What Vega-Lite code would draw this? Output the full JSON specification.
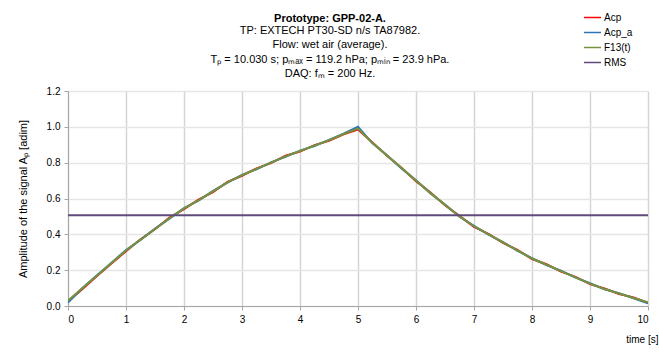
{
  "$schema": "https://vega.github.io/schema/vega-lite/v6.json",
  "width": 580,
  "height": 215,
  "autosize": "none",
  "padding": {"left": 68, "top": 91, "right": 11, "bottom": 46},
  "background": "white",
  "config": {
    "font": "Liberation Sans",
    "view": {"stroke": null},
    "axis": {"labelFont": "Liberation Sans", "titleFont": "Liberation Sans", "labelFontSize": 10, "titleFontSize": 11, "titleFontWeight": "normal", "labelColor": "#000", "titleColor": "#000", "domainColor": "#a6a6a6", "tickColor": "#a6a6a6", "tickSize": 4}
  },
  "title": {
    "text": ["Prototype: GPP-02-A."],
    "subtitle": ["TP: EXTECH PT30-SD n/s TA87982.", "Flow: wet air (average).", "Tₚ = 10.030 s; pₘₐₓ = 119.2 hPa; pₘᵢₙ = 23.9 hPa.", "DAQ: fₘ = 200 Hz."],
    "anchor": "middle",
    "frame": "group",
    "dx": -28,
    "offset": -71,
    "font": "Liberation Sans",
    "fontSize": 11,
    "fontWeight": "bold",
    "color": "#000",
    "subtitleFont": "Liberation Sans",
    "subtitleFontSize": 11,
    "subtitleColor": "#000",
    "subtitleLineHeight": 14.5,
    "lineHeight": 14.5,
    "subtitlePadding": 1
  },
  "data": {"values": [
    {"t":0,"A":0.025,"s":"Acp"},{"t":0.25,"A":0.095,"s":"Acp"},{"t":0.5,"A":0.168,"s":"Acp"},{"t":0.75,"A":0.237,"s":"Acp"},{"t":1,"A":0.306,"s":"Acp"},{"t":1.25,"A":0.372,"s":"Acp"},{"t":1.5,"A":0.428,"s":"Acp"},{"t":1.75,"A":0.493,"s":"Acp"},{"t":2,"A":0.541,"s":"Acp"},{"t":2.25,"A":0.594,"s":"Acp"},{"t":2.5,"A":0.636,"s":"Acp"},{"t":2.75,"A":0.693,"s":"Acp"},{"t":3,"A":0.727,"s":"Acp"},{"t":3.25,"A":0.768,"s":"Acp"},{"t":3.5,"A":0.797,"s":"Acp"},{"t":3.75,"A":0.839,"s":"Acp"},{"t":4,"A":0.862,"s":"Acp"},{"t":4.25,"A":0.898,"s":"Acp"},{"t":4.5,"A":0.922,"s":"Acp"},{"t":4.75,"A":0.958,"s":"Acp"},{"t":5,"A":0.985,"s":"Acp"},{"t":5.25,"A":0.912,"s":"Acp"},{"t":5.5,"A":0.838,"s":"Acp"},{"t":5.75,"A":0.772,"s":"Acp"},{"t":6,"A":0.697,"s":"Acp"},{"t":6.25,"A":0.633,"s":"Acp"},{"t":6.5,"A":0.562,"s":"Acp"},{"t":6.75,"A":0.503,"s":"Acp"},{"t":7,"A":0.442,"s":"Acp"},{"t":7.25,"A":0.403,"s":"Acp"},{"t":7.5,"A":0.352,"s":"Acp"},{"t":7.75,"A":0.313,"s":"Acp"},{"t":8,"A":0.262,"s":"Acp"},{"t":8.25,"A":0.233,"s":"Acp"},{"t":8.5,"A":0.192,"s":"Acp"},{"t":8.75,"A":0.163,"s":"Acp"},{"t":9,"A":0.122,"s":"Acp"},{"t":9.25,"A":0.098,"s":"Acp"},{"t":9.5,"A":0.067,"s":"Acp"},{"t":9.75,"A":0.048,"s":"Acp"},{"t":10,"A":0.018,"s":"Acp"},
    {"t":0,"A":0.02,"s":"Acp_a"},{"t":0.25,"A":0.1,"s":"Acp_a"},{"t":0.5,"A":0.172,"s":"Acp_a"},{"t":0.75,"A":0.242,"s":"Acp_a"},{"t":1,"A":0.312,"s":"Acp_a"},{"t":1.25,"A":0.369,"s":"Acp_a"},{"t":1.5,"A":0.432,"s":"Acp_a"},{"t":1.75,"A":0.488,"s":"Acp_a"},{"t":2,"A":0.546,"s":"Acp_a"},{"t":2.25,"A":0.588,"s":"Acp_a"},{"t":2.5,"A":0.642,"s":"Acp_a"},{"t":2.75,"A":0.688,"s":"Acp_a"},{"t":3,"A":0.732,"s":"Acp_a"},{"t":3.25,"A":0.763,"s":"Acp_a"},{"t":3.5,"A":0.802,"s":"Acp_a"},{"t":3.75,"A":0.833,"s":"Acp_a"},{"t":4,"A":0.867,"s":"Acp_a"},{"t":4.25,"A":0.893,"s":"Acp_a"},{"t":4.5,"A":0.927,"s":"Acp_a"},{"t":4.75,"A":0.962,"s":"Acp_a"},{"t":5,"A":1.0,"s":"Acp_a"},{"t":5.25,"A":0.908,"s":"Acp_a"},{"t":5.5,"A":0.842,"s":"Acp_a"},{"t":5.75,"A":0.768,"s":"Acp_a"},{"t":6,"A":0.702,"s":"Acp_a"},{"t":6.25,"A":0.628,"s":"Acp_a"},{"t":6.5,"A":0.567,"s":"Acp_a"},{"t":6.75,"A":0.498,"s":"Acp_a"},{"t":7,"A":0.447,"s":"Acp_a"},{"t":7.25,"A":0.398,"s":"Acp_a"},{"t":7.5,"A":0.357,"s":"Acp_a"},{"t":7.75,"A":0.308,"s":"Acp_a"},{"t":8,"A":0.267,"s":"Acp_a"},{"t":8.25,"A":0.228,"s":"Acp_a"},{"t":8.5,"A":0.197,"s":"Acp_a"},{"t":8.75,"A":0.158,"s":"Acp_a"},{"t":9,"A":0.127,"s":"Acp_a"},{"t":9.25,"A":0.093,"s":"Acp_a"},{"t":9.5,"A":0.072,"s":"Acp_a"},{"t":9.75,"A":0.043,"s":"Acp_a"},{"t":10,"A":0.015,"s":"Acp_a"},
    {"t":0,"A":0.03,"s":"F13(t)"},{"t":0.25,"A":0.1,"s":"F13(t)"},{"t":0.5,"A":0.17,"s":"F13(t)"},{"t":0.75,"A":0.24,"s":"F13(t)"},{"t":1,"A":0.31,"s":"F13(t)"},{"t":1.25,"A":0.37,"s":"F13(t)"},{"t":1.5,"A":0.43,"s":"F13(t)"},{"t":1.75,"A":0.49,"s":"F13(t)"},{"t":2,"A":0.545,"s":"F13(t)"},{"t":2.25,"A":0.59,"s":"F13(t)"},{"t":2.5,"A":0.64,"s":"F13(t)"},{"t":2.75,"A":0.69,"s":"F13(t)"},{"t":3,"A":0.73,"s":"F13(t)"},{"t":3.25,"A":0.765,"s":"F13(t)"},{"t":3.5,"A":0.8,"s":"F13(t)"},{"t":3.75,"A":0.835,"s":"F13(t)"},{"t":4,"A":0.865,"s":"F13(t)"},{"t":4.25,"A":0.895,"s":"F13(t)"},{"t":4.5,"A":0.925,"s":"F13(t)"},{"t":4.75,"A":0.96,"s":"F13(t)"},{"t":5,"A":0.99,"s":"F13(t)"},{"t":5.25,"A":0.91,"s":"F13(t)"},{"t":5.5,"A":0.84,"s":"F13(t)"},{"t":5.75,"A":0.77,"s":"F13(t)"},{"t":6,"A":0.7,"s":"F13(t)"},{"t":6.25,"A":0.63,"s":"F13(t)"},{"t":6.5,"A":0.565,"s":"F13(t)"},{"t":6.75,"A":0.5,"s":"F13(t)"},{"t":7,"A":0.445,"s":"F13(t)"},{"t":7.25,"A":0.4,"s":"F13(t)"},{"t":7.5,"A":0.355,"s":"F13(t)"},{"t":7.75,"A":0.31,"s":"F13(t)"},{"t":8,"A":0.265,"s":"F13(t)"},{"t":8.25,"A":0.23,"s":"F13(t)"},{"t":8.5,"A":0.195,"s":"F13(t)"},{"t":8.75,"A":0.16,"s":"F13(t)"},{"t":9,"A":0.125,"s":"F13(t)"},{"t":9.25,"A":0.095,"s":"F13(t)"},{"t":9.5,"A":0.07,"s":"F13(t)"},{"t":9.75,"A":0.045,"s":"F13(t)"},{"t":10,"A":0.02,"s":"F13(t)"},
    {"t":0,"A":0.506,"s":"RMS"},{"t":10,"A":0.506,"s":"RMS"}
  ]},
  "mark": {"type": "line", "strokeWidth": 2, "clip": true},
  "encoding": {
    "x": {"field": "t", "type": "quantitative", "scale": {"domain": [0, 10], "nice": false},
      "axis": {"values": [0,1,2,3,4,5,6,7,8,9,10], "title": "time [s]", "titleAnchor": "end", "titleAlign": "right", "titleX": 590, "titleY": 28, "titleFontSize": 10, "labelPadding": 4, "gridColor": "#d4d4d4", "gridWidth": 1.5}},
    "y": {"field": "A", "type": "quantitative", "scale": {"domain": [0, 1.2], "nice": false},
      "axis": {"values": [0,0.2,0.4,0.6,0.8,1.0,1.2], "format": ".1f", "title": "Amplitude of the signal Aₚ [adim]", "titlePadding": 18, "labelPadding": 4, "gridColor": "#e6e6e6", "gridWidth": 1.5}},
    "color": {"field": "s", "type": "nominal",
      "scale": {"domain": ["Acp", "Acp_a", "F13(t)", "RMS"], "range": ["#ff0000", "#2e75b6", "#77933c", "#604a7b"]},
      "legend": {"title": null, "orient": "none", "legendX": 515, "legendY": -83, "symbolType": "stroke", "symbolSize": 289, "symbolStrokeWidth": 1.5, "labelFontSize": 10, "labelFont": "Liberation Sans", "labelColor": "#000", "rowPadding": -4, "labelOffset": 2}},
    "order": {"field": "s"}
  }
}
